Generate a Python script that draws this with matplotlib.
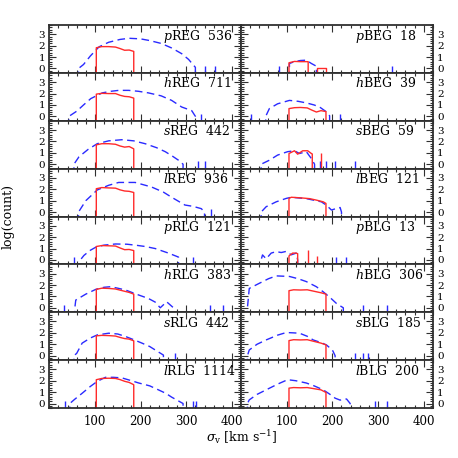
import numpy as np
import matplotlib

matplotlib.use("Agg")
import matplotlib.pyplot as plt
from matplotlib.ticker import MultipleLocator, FixedLocator

plt.rcParams["font.family"] = "DejaVu Serif"
plt.rcParams["mathtext.fontset"] = "dejavuserif"
plt.rcParams["lines.scale_dashes"] = False

# panel order: left column top->bottom, then right column top->bottom
left_names = ["pREG", "hREG", "sREG", "lREG", "pRLG", "hRLG", "sRLG", "lRLG"]
left_counts = [536, 711, 442, 936, 121, 383, 442, 1114]
right_names = ["pBEG", "hBEG", "sBEG", "lBEG", "pBLG", "hBLG", "sBLG", "lBLG"]
right_counts = [18, 39, 59, 121, 13, 306, 185, 200]

# full-sample distribution (blue dashed): sigma_v and log(count)
blue_sigma = {
    "pREG": [64, 75, 90, 109, 130, 155, 175, 200, 220, 245, 268, 290, 305, 320],
    "hREG": [43, 60, 75, 91, 116, 135, 152, 174, 195, 217, 245, 268, 290, 312, 320],
    "sREG": [54, 65, 85, 105, 130, 159, 185, 210, 235, 254, 270, 283, 293],
    "lREG": [64, 80, 105, 130, 152, 188, 224, 250, 268, 297, 315, 333, 340],
    "pRLG": [68, 76, 90, 102, 120, 145, 170, 188, 210, 232, 261, 283],
    "hRLG": [56, 58, 80, 102, 120, 134, 150, 167, 196, 217, 232, 243, 257, 272],
    "sRLG": [54, 60, 72, 90, 105, 130, 150, 167, 185, 203, 220, 232, 250],
    "lRLG": [45, 55, 72, 90, 105, 123, 140, 159, 180, 196, 220, 239, 255, 268, 293],
    "pBEG": [106, 117, 130, 143, 154, 165],
    "hBEG": [54, 62, 80, 106, 125, 143, 160, 172, 185, 194],
    "sBEG": [44, 62, 80, 102, 117, 128, 143, 154, 161],
    "lBEG": [44, 55, 77, 99, 110, 143, 176, 187, 198, 209, 217, 220],
    "pBLG": [44, 47, 55, 66, 77, 88, 99, 110, 121, 124],
    "hBLG": [14, 18, 40, 60, 77, 106, 125, 143, 165, 180, 195, 209, 224],
    "sBLG": [14, 18, 35, 55, 80, 99, 115, 128, 145, 158, 175, 187, 200, 206],
    "lBLG": [14, 18, 35, 55, 80, 102, 120, 143, 160, 180, 195, 206, 217, 231, 239],
}
blue_logn = {
    "pREG": [0, 0.35, 1.1, 1.9, 2.3, 2.55, 2.65, 2.6, 2.45, 2.2, 1.8, 1.3, 0.8, 0.1],
    "hREG": [0, 0.45, 1.0, 1.56, 2.06, 2.2, 2.28, 2.28, 2.2, 2.06, 1.8, 1.4, 0.82, 0.5, 0.0],
    "sREG": [0, 0.65, 1.3, 1.8, 2.05, 2.15, 2.05, 1.8, 1.45, 1.1, 0.7, 0.35, 0],
    "lREG": [0, 1.0, 1.94, 2.35, 2.6, 2.6, 2.2, 1.75, 1.3, 0.62, 0.5, 0.3, 0],
    "pRLG": [0, 0.4, 0.85, 1.12, 1.3, 1.4, 1.38, 1.3, 1.18, 1.0, 0.6, 0.25],
    "hRLG": [0, 0.68, 1.2, 1.62, 1.8, 1.85, 1.72, 1.56, 1.12, 0.82, 0.5, 0.0, 0.53, 0],
    "sRLG": [0, 0.2, 1.1, 1.55, 1.82, 1.97, 1.9, 1.68, 1.4, 1.1, 0.8, 0.5, 0.05],
    "lRLG": [0, 0.35, 0.9, 1.5, 1.94, 2.3, 2.3, 2.25, 2.0, 1.8, 1.55, 1.2, 0.9, 0.56, 0],
    "pBEG": [0.44, 0.6, 0.7, 0.73, 0.44, 0.2],
    "hBEG": [0, 0.68, 1.1, 1.4, 1.32, 1.18, 1.0, 0.82, 0.45, 0.05],
    "sBEG": [0, 0.35, 0.8, 1.1, 1.18, 0.94, 1.1, 0.5, 0],
    "lBEG": [0, 0.47, 0.9, 1.2, 1.3, 1.18, 0.9, 0.6, 0.18, 0.32, 0.4, 0],
    "pBLG": [0, 0.44, 0.1, 0.6, 0.73, 0.65, 0.75, 0.45, 0.6, 0],
    "hBLG": [0, 1.7, 2.15, 2.55, 2.8, 2.75, 2.55, 2.3, 1.85, 1.4, 0.9, 0.38, 0],
    "sBLG": [0, 0.5, 1.0, 1.38, 1.8, 2.03, 2.0, 1.97, 1.7, 1.38, 1.15, 0.94, 0.5, 0.0],
    "lBLG": [0, 0.32, 0.8, 1.2, 1.7, 2.09, 2.0, 1.8, 1.55, 1.2, 0.8, 0.47, 0.3, 0.4, 0],
}
# isolated single-count bins of the blue distribution
blue_single = {
    "pREG": [340, 362], "hREG": [333], "sREG": [326, 341], "lREG": [355],
    "pRLG": [54, 315], "hRLG": [33, 352, 380], "sRLG": [275], "lRLG": [35, 315, 322],
    "pBEG": [84, 331], "hBEG": [21, 217], "sBEG": [172, 186, 206, 250], "lBEG": [],
    "pBLG": [209, 230], "hBLG": [268, 320], "sBLG": [250, 268, 279], "lBLG": [294, 320],
}

# selected sample (red solid): segments of sigma_v and log(count)
red_grid = [103, 115, 130, 145, 155, 165, 175, 185]
red_grid_r = [105, 115, 130, 145, 160, 175, 186]
red_sigma = {
    "pREG": [red_grid], "hREG": [red_grid], "sREG": [red_grid], "lREG": [red_grid],
    "pRLG": [red_grid], "hRLG": [red_grid], "sRLG": [red_grid], "lRLG": [red_grid],
    "pBEG": [[105, 117, 130, 140, 147], [166, 187]],
    "hBEG": [[105, 117, 130, 145, 155, 165, 175, 186]],
    "sBEG": [[105, 117, 124, 135, 146, 154, 156]],
    "lBEG": [[105, 110, 130, 150, 165, 180, 186]],
    "pBLG": [[105, 113, 120, 124]],
    "hBLG": [red_grid_r], "sBLG": [red_grid_r], "lBLG": [red_grid_r],
}
red_logn = {
    "pREG": [[1.82, 1.92, 1.92, 1.88, 1.75, 1.6, 1.62, 1.5]],
    "hREG": [[1.95, 2.02, 2.0, 2.0, 1.85, 1.75, 1.72, 1.6]],
    "sREG": [[1.7, 1.8, 1.8, 1.75, 1.6, 1.5, 1.55, 1.35]],
    "lREG": [[2.05, 2.15, 2.12, 2.1, 1.95, 1.85, 1.82, 1.72]],
    "pRLG": [[1.18, 1.26, 1.24, 1.22, 1.05, 0.9, 0.92, 0.82]],
    "hRLG": [[1.62, 1.72, 1.7, 1.65, 1.55, 1.45, 1.35, 1.2]],
    "sRLG": [[1.74, 1.78, 1.76, 1.72, 1.6, 1.5, 1.45, 1.3]],
    "lRLG": [[2.09, 2.2, 2.22, 2.2, 2.1, 1.95, 1.85, 1.65]],
    "pBEG": [[0.5, 0.62, 0.6, 0.6, 0.6], [0, 0]],
    "hBEG": [[0.68, 0.76, 0.78, 0.74, 0.55, 0.38, 0.5, 0.42]],
    "sBEG": [[0.94, 1.18, 0.88, 1.18, 1.18, 0.94, 0.9]],
    "lBEG": [[1.2, 1.3, 1.25, 1.18, 1.05, 0.9, 0.76]],
    "pBLG": [[0.35, 0.6, 0.6, 0.55]],
    "hBLG": [[1.5, 1.58, 1.56, 1.58, 1.45, 1.32, 1.2]],
    "sBLG": [[1.32, 1.4, 1.38, 1.4, 1.25, 1.1, 0.95]],
    "lBLG": [[1.35, 1.4, 1.38, 1.4, 1.3, 1.2, 0.97]],
}
red_spike_sigma = {"sBEG": [175], "pBLG": [147, 166]}
red_spike_logn = {"sBEG": [0.95], "pBLG": [0.9, 0.35]}

x_ticks = [100, 200, 300, 400]
y_ticks = [0, 1, 2, 3]

XLIM = (0, 420)
YLIM = (-0.4, 3.8)
FLOOR = -2.0
RED = "#ff2a2a"
BLUE = "#2a2aff"
FRAME = "#303030"


def with_floor(x, y):
    x = np.asarray(x, float)
    y = np.asarray(y, float)
    return np.r_[x[0], x, x[-1]], np.r_[FLOOR, y, FLOOR]


def draw_panel(ax, name, count, side, bottom):
    bx, by = with_floor(blue_sigma[name], blue_logn[name])
    ax.plot(bx, by, color=BLUE, lw=1.0, dashes=(5.5, 3.2))
    if blue_single[name]:
        ax.vlines(blue_single[name], YLIM[0], 0.25, color=BLUE, lw=1.0)
    for sx, sy in zip(red_sigma[name], red_logn[name]):
        rx, ry = with_floor(sx, sy)
        ax.plot(rx, ry, color=RED, lw=1.0)
    if name in red_spike_sigma:
        ax.vlines(red_spike_sigma[name], YLIM[0], red_spike_logn[name], color=RED, lw=1.0)

    ax.set_xlim(*XLIM)
    ax.set_ylim(*YLIM)
    ax.xaxis.set_major_locator(FixedLocator(x_ticks))
    ax.xaxis.set_minor_locator(MultipleLocator(20))
    ax.yaxis.set_major_locator(FixedLocator(y_ticks))
    ax.yaxis.set_minor_locator(MultipleLocator(0.2))
    ax.tick_params(which="both", direction="in", top=True, right=True,
                   color=FRAME, width=0.8)
    ax.tick_params(which="major", length=5)
    ax.tick_params(which="minor", length=2.5)
    ax.tick_params(axis="y", pad=3, labelsize=7.5,
                   labelleft=(side == "left"), labelright=(side == "right"))
    ax.tick_params(axis="x", labelbottom=bottom, pad=5, labelsize=8.5)
    for sp in ax.spines.values():
        sp.set_linewidth(1.3)
        sp.set_color(FRAME)
    ax.text(0.595, 0.70, rf"${name[0]}$" + f"{name[1:]}  {count}",
            transform=ax.transAxes, ha="left", va="baseline", fontsize=9)


fig = plt.figure(figsize=(4.58, 4.58), dpi=100)
gs = fig.add_gridspec(8, 2, left=0.1076, right=0.945, top=0.945, bottom=0.109,
                      hspace=0, wspace=0)
for i in range(8):
    ax = fig.add_subplot(gs[i, 0])
    draw_panel(ax, left_names[i], left_counts[i], "left", i == 7)
    ax = fig.add_subplot(gs[i, 1])
    draw_panel(ax, right_names[i], right_counts[i], "right", i == 7)

fig.text(0.018, 0.527, "log(count)", rotation=90, ha="center", va="center", fontsize=9)
fig.text(0.527, 0.046, r"$\sigma_{\rm v}$ [km s$^{-1}$]", ha="center", va="center", fontsize=9)

fig.savefig("out.png", dpi=100)
plt.close(fig)
